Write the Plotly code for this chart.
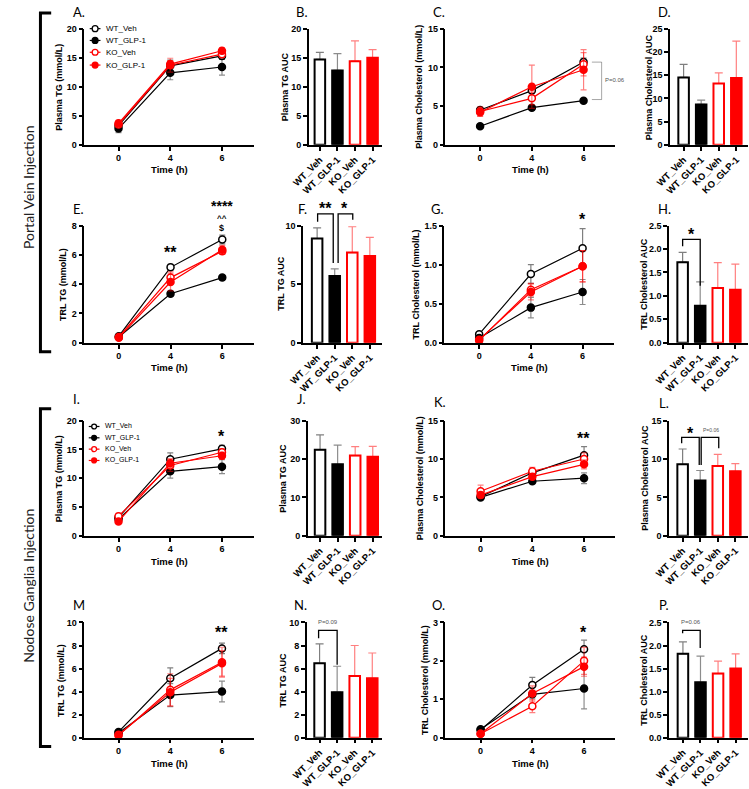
import plotly.graph_objects as go

W, H = 749, 789

TIME_LABELS = ['0', '4', '6']
GROUPS = ['WT_Veh', 'WT_GLP-1', 'KO_Veh', 'KO_GLP-1']
EDGE = ['#000000', '#000000', '#ff0000', '#ff0000']
FILL = ['#ffffff', '#000000', '#ffffff', '#ff0000']
ERRC = ['rgba(0,0,0,0.5)', 'rgba(0,0,0,0.45)', 'rgba(255,0,0,0.5)', 'rgba(255,0,0,0.5)']

# ---------------- data (mean / SEM per group; rows = groups, cols = time 0,4,6 h) -------------
A_mean = [[3.3, 13.6, 15.3], [2.8, 12.4, 13.4], [3.5, 13.7, 15.6], [3.7, 13.9, 16.2]]
A_err = [[0.6, 1.0, 0.6], [0.7, 1.2, 1.4], [0.5, 1.2, 0.5], [0.5, 0.6, 0.5]]
B_mean = [14.7, 12.8, 14.4, 15.0]
B_err = [1.2, 2.9, 3.5, 1.4]
C_mean = [[4.5, 7.0, 10.7], [2.4, 4.8, 5.7], [4.3, 6.0, 10.4], [4.2, 7.5, 9.7]]
C_err = [[0.3, 0.4, 0.5], [0.2, 0.2, 0.2], [0.6, 0.8, 1.5], [0.5, 2.8, 2.6]]
D_mean = [14.5, 8.7, 13.2, 14.4]
D_err = [2.8, 0.9, 2.3, 7.9]
E_mean = [[0.45, 5.15, 7.05], [0.4, 3.35, 4.45], [0.4, 4.45, 6.25], [0.35, 4.15, 6.35]]
E_err = [[0.1, 0.2, 0.3], [0.1, 0.15, 0.15], [0.1, 0.4, 0.2], [0.1, 0.6, 0.3]]
F_mean = [8.9, 5.7, 7.7, 7.4]
F_err = [0.9, 0.6, 2.2, 1.6]
G_mean = [[0.11, 0.88, 1.21], [0.06, 0.45, 0.65], [0.03, 0.68, 0.98], [0.04, 0.65, 0.98]]
G_err = [[0.02, 0.12, 0.25], [0.02, 0.13, 0.16], [0.02, 0.08, 0.2], [0.02, 0.1, 0.2]]
H_mean = [1.72, 0.79, 1.17, 1.13]
H_err = [0.21, 0.51, 0.54, 0.55]
I_mean = [[3.2, 13.3, 15.1], [2.9, 11.2, 12.0], [3.4, 12.2, 14.5], [2.5, 12.6, 13.9]]
I_err = [[0.4, 1.1, 0.6], [0.4, 1.2, 1.2], [0.5, 1.0, 0.6], [0.4, 0.8, 0.6]]
J_mean = [22.4, 18.6, 20.9, 20.6]
J_err = [3.9, 5.0, 2.3, 2.7]
K_mean = [[5.1, 8.2, 10.5], [5.0, 7.1, 7.5], [5.8, 8.4, 10.0], [5.3, 7.7, 9.3]]
K_err = [[0.3, 0.4, 1.1], [0.3, 0.3, 0.7], [0.8, 0.5, 0.8], [0.4, 0.4, 0.6]]
L_mean = [9.3, 7.2, 9.1, 8.4]
L_err = [2.0, 1.3, 1.5, 1.0]
M_mean = [[0.5, 5.15, 7.75], [0.4, 3.7, 4.0], [0.2, 4.15, 6.55], [0.25, 3.95, 6.45]]
M_err = [[0.1, 0.9, 0.45], [0.1, 1.0, 0.9], [0.1, 1.4, 1.3], [0.1, 1.2, 1.1]]
N_mean = [6.45, 3.95, 5.35, 5.15]
N_err = [1.7, 2.25, 2.65, 2.2]
O_mean = [[0.2, 1.37, 2.3], [0.22, 1.13, 1.28], [0.1, 0.82, 2.0], [0.1, 1.15, 1.85]]
O_err = [[0.03, 0.2, 0.24], [0.03, 0.1, 0.53], [0.03, 0.17, 0.35], [0.03, 0.2, 0.25]]
P_mean = [1.82, 1.2, 1.39, 1.5]
P_err = [0.26, 0.57, 0.27, 0.32]

# ---------------- layout geometry (pixels) ----------------
ROWS = {1: (24, 142), 2: (224, 343), 3: (422, 539), 4: (627, 744)}
LSP, BSP = 53.0, 18.0

line_panels = [
    # name, mean, err, axis_left, x0px, right, row, ymax, dtick, fmt, ytitle, ytitle_x
    ('A', A_mean, A_err, 68, 103, 242, 1, 20, 5, '', 'Plasma TG (mmol/L)', 42),
    ('C', C_mean, C_err, 438, 473.5, 612, 1, 15, 5, '', 'Plasma Cholesterol (mmol/L)', 411),
    ('E', E_mean, E_err, 68, 103.3, 242, 2, 8, 2, '', 'TRL TG (mmol/L)', 46),
    ('G', G_mean, G_err, 437, 472.5, 611, 2, 1.5, 0.5, '.1f', 'TRL Cholesterol (mmol/L)', 408),
    ('I', I_mean, I_err, 68, 103, 242, 3, 20, 5, '', 'Plasma TG (mmol/L)', 42),
    ('K', K_mean, K_err, 438, 474, 612, 3, 15, 5, '', 'Plasma Cholesterol (mmol/L)', 412),
    ('M', M_mean, M_err, 68, 103, 242, 4, 10, 2, '', 'TRL TG (mmol/L)', 44),
    ('O', O_mean, O_err, 438, 474, 612, 4, 3, 1, '', 'TRL Cholesterol (mmol/L)', 417),
]
bar_panels = [
    ('B', B_mean, B_err, 298, 309.3, 373, 1, 20, 5, '', 'Plasma TG AUC', 273),
    ('D', D_mean, D_err, 668, 682, 748, 1, 25, 5, '', 'Plasma Cholesterol AUC', 646),
    ('F', F_mean, F_err, 292, 306.5, 373, 2, 10, 5, '', 'TRL TG AUC', 270),
    ('H', H_mean, H_err, 667, 681, 748, 2, 2.5, 0.5, '.1f', 'TRL Cholesterol AUC', 642),
    ('J', J_mean, J_err, 297, 309.5, 373, 3, 30, 10, '', 'Plasma TG AUC', 272),
    ('L', L_mean, L_err, 667, 681, 748, 3, 15, 5, '', 'Plasma Cholesterol AUC', 643),
    ('N', N_mean, N_err, 296, 309, 373, 4, 10, 2, '', 'TRL TG AUC', 272),
    ('P', P_mean, P_err, 667, 681.3, 748, 4, 2.5, 0.5, '.1f', 'TRL Cholesterol AUC', 642),
]

LETTERS = {'A': (62, 7, 'A.'), 'B': (290, 7, 'B.'), 'C': (431, 7, 'C.'), 'D': (662, 7, 'D.'),
           'E': (62, 207, 'E.'), 'F': (292, 207, 'F.'), 'G': (430, 207, 'G.'), 'H': (662, 207, 'H.'),
           'I': (60, 400, 'I.'), 'J': (290, 400, 'J.'), 'K': (432, 403, 'K.'), 'L': (662, 404, 'L.'),
           'M': (63, 609, 'M'), 'N': (289, 609, 'N.'), 'O': (431, 609, 'O.'), 'P': (662, 609, 'P.')}

TIME_Y = {1: 167, 2: 368, 3: 565, 4: 770}

AXFONT = dict(family='Liberation Sans, Arial', size=9, color='black', weight='bold')
BARFONT = dict(family='Liberation Sans, Arial', size=9.5, color='black', weight='bold')

fig = go.Figure()
layout = dict(width=W, height=H, margin=dict(l=0, r=0, t=0, b=0),
              paper_bgcolor='white', plot_bgcolor='white', showlegend=False,
              barmode='overlay')
annotations = []
shapes = []


def px(p):
    return p / W


def py(p):
    return 1 - p / H


def axis_common():
    return dict(showline=True, linecolor='black', linewidth=1.5, ticks='outside', ticklen=4,
                tickwidth=1.5, tickcolor='black', showgrid=False, zeroline=False,
                tickfont=AXFONT, fixedrange=True)


def ytitle(text, x, top, bottom):
    annotations.append(dict(text=text, x=px(x), y=py((top + bottom) / 2), xref='paper', yref='paper',
                            textangle=-90, showarrow=False, xanchor='center', yanchor='middle',
                            font=dict(family='Liberation Sans, Arial', size=9, color='black', weight='bold')))


k = 0
for (name, mean, err, left, x0, right, row, ymax, dtick, fmt, yt, ytx) in line_panels:
    k += 1
    sfx = '' if k == 1 else str(k)
    top, bottom = ROWS[row]
    xa = axis_common()
    xa.update(domain=[px(left), px(right)], range=[(left - x0) / LSP, (right - x0) / LSP],
              tickvals=[0, 1, 2], ticktext=TIME_LABELS, anchor='y' + sfx)
    ya = axis_common()
    ya.update(domain=[py(bottom), py(top)], range=[0, ymax], dtick=dtick, tick0=0,
              anchor='x' + sfx, tickformat=fmt)
    layout['xaxis' + sfx] = xa
    layout['yaxis' + sfx] = ya
    for g in range(4):
        fig.add_trace(go.Scatter(
            x=[0, 1, 2], y=mean[g], mode='lines+markers', name=GROUPS[g],
            line=dict(color=EDGE[g], width=1.2),
            marker=dict(symbol='circle', size=7, color=FILL[g], line=dict(color=EDGE[g], width=1.5)),
            error_y=dict(type='data', array=err[g], color=ERRC[g], thickness=1.2, width=3),
            xaxis='x' + sfx, yaxis='y' + sfx, cliponaxis=False))
    ytitle(yt, ytx, top, bottom)
    annotations.append(dict(text='Time (h)', x=px((left + right) / 2), y=py(TIME_Y[row]), xref='paper',
                            yref='paper', showarrow=False, xanchor='center', yanchor='middle',
                            font=dict(family='Liberation Sans, Arial', size=9.5, color='black',
                                      weight='bold')))

for (name, mean, err, left, c1, right, row, ymax, dtick, fmt, yt, ytx) in bar_panels:
    k += 1
    sfx = str(k)
    top, bottom = ROWS[row]
    xa = axis_common()
    xa.update(domain=[px(left), px(right)], range=[(left - c1) / BSP, (right - c1) / BSP],
              tickvals=[0, 1, 2, 3], ticktext=GROUPS, tickangle=-45, anchor='y' + sfx,
              tickfont=BARFONT)
    ya = axis_common()
    ya.update(domain=[py(bottom), py(top)], range=[0, ymax], dtick=dtick, tick0=0,
              anchor='x' + sfx, tickformat=fmt)
    layout['xaxis' + sfx] = xa
    layout['yaxis' + sfx] = ya
    for g in range(4):
        fig.add_trace(go.Bar(
            x=[g], y=[mean[g]], width=0.6, name=GROUPS[g],
            marker=dict(color=FILL[g], line=dict(color=EDGE[g], width=2)),
            error_y=dict(type='data', array=[err[g]], arrayminus=[0], symmetric=False,
                         color=ERRC[g], thickness=1.2, width=4),
            xaxis='x' + sfx, yaxis='y' + sfx, cliponaxis=False))
    ytitle(yt, ytx, top, bottom)

# panel letters
for key, (x, y, t) in LETTERS.items():
    annotations.append(dict(text=t, x=px(x), y=py(y), xref='paper', yref='paper', showarrow=False,
                            xanchor='center', yanchor='middle',
                            font=dict(family='Lato, Open Sans', size=13, color='black')))


def txt(x, y, text, size=16, bold=True, color='black'):
    f = dict(family='Liberation Sans, Arial', size=size, color=color)
    if bold:
        f['weight'] = 'bold'
    annotations.append(dict(text=text, x=px(x), y=py(y), xref='paper', yref='paper', showarrow=False,
                            xanchor='center', yanchor='middle', font=f))


def bracket(xa, xb, yh, ya, yb, color='black', w=1.3):
    shapes.append(dict(type='path', xref='paper', yref='paper',
                       path=f'M {px(xa)} {py(ya)} L {px(xa)} {py(yh)} L {px(xb)} {py(yh)} L {px(xb)} {py(yb)}',
                       line=dict(color=color, width=w)))


# significance markers (pixel positions of glyph centres + baseline offset)
txt(156, 251, '**')
txt(209, 204, '****', 14)
txt(209, 216.5, '^^', 8)
txt(209, 226, '$', 9)
txt(578, 218, '*')
txt(209, 438, '*')
txt(579, 440, '**')
txt(209, 637, '**')
txt(579, 637, '*')

# C: P=0.06 side bracket (gray)
shapes.append(dict(type='path', xref='paper', yref='paper',
                   path=f'M {px(588)} {py(58)} L {px(598)} {py(58)} L {px(598)} {py(96)} L {px(588)} {py(96)}',
                   line=dict(color='rgba(0,0,0,0.35)', width=1)))
txt(612, 76, 'P=0.06', 6, False, '#555555')

# F brackets
bracket(307, 323, 212, 220, 262)
bracket(328, 343, 212, 262, 218)
txt(315, 207, '**')
txt(335, 207, '*')

# H bracket
bracket(681, 699, 238, 245, 285)
txt(690, 233, '*')

# L brackets
bracket(680, 698, 439, 445, 467)
bracket(700, 718, 439, 467, 450)
txt(689, 435, '*')
txt(710, 432, 'P=0.06', 5, False, '#555555')

# N bracket
bracket(308, 327, 635, 643, 670)
txt(318, 627, 'P=0.09', 6, False, '#555555')

# P bracket
bracket(681, 699, 635, 638, 653)
txt(690, 627, 'P=0.06', 6, False, '#555555')

# manual legends in panels A and I
LEG_ROWS = {'A': ([24, 36, 48, 61], 79, 3.0, 8), 'I': ([428, 439.5, 451, 462.5], 78, 2.5, 7)}
for pname, (rows, cx, r, fs) in LEG_ROWS.items():
    for g, yy in enumerate(rows):
        shapes.append(dict(type='line', xref='paper', yref='paper', x0=px(cx - 5.5), x1=px(cx + 5.5),
                           y0=py(yy), y1=py(yy), line=dict(color=EDGE[g], width=1.2)))
        shapes.append(dict(type='circle', xref='paper', yref='paper', x0=px(cx - r), x1=px(cx + r),
                           y0=py(yy + r), y1=py(yy - r), fillcolor=FILL[g],
                           line=dict(color=EDGE[g], width=1.3)))
        annotations.append(dict(text=GROUPS[g], x=px(cx + 9), y=py(yy), xref='paper', yref='paper',
                                showarrow=False, xanchor='left', yanchor='middle',
                                font=dict(family='Liberation Sans, Arial', size=fs, color='black')))

# left section brackets
for (t0, t1, label, cy) in [(8, 352, 'Portal Vein Injection', 185), (410, 753, 'Nodose Ganglia Injection', 590)]:
    shapes.append(dict(type='path', xref='paper', yref='paper',
                       path=f'M {px(34)} {py(t0)} L {px(23)} {py(t0)} L {px(23)} {py(t1)} L {px(34)} {py(t1)}',
                       line=dict(color='black', width=3)))
    annotations.append(dict(text=label, x=px(10), y=py(cy), xref='paper', yref='paper', textangle=-90,
                            showarrow=False, xanchor='center', yanchor='middle',
                            font=dict(family='Lato, Open Sans', size=14, color='#222222')))

layout['annotations'] = annotations
layout['shapes'] = shapes
fig.update_layout(**layout)
fig.write_html('out.html', config={'displayModeBar': False},
               post_script="document.body.style.margin='0px';document.body.style.overflow='hidden';")
